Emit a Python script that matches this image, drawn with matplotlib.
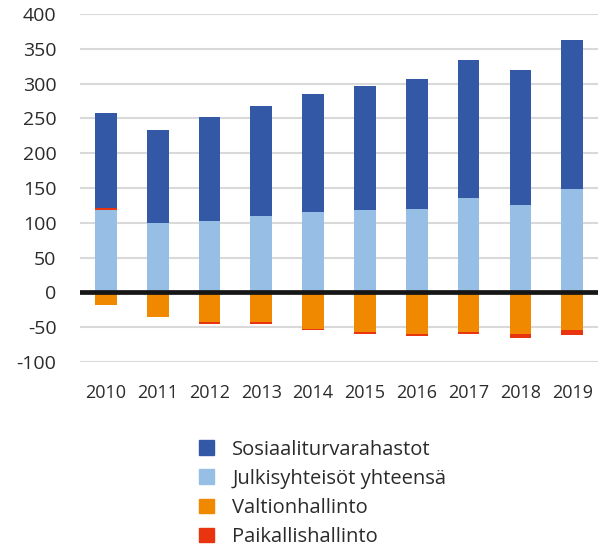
import numpy as np
import matplotlib.pyplot as plt
from matplotlib.patches import Patch

plt.rcParams['font.family'] = ['Open Sans', 'DejaVu Sans']
plt.rcParams['axes.unicode_minus'] = False

# Data
years = ['2010', '2011', '2012', '2013', '2014', '2015', '2016', '2017', '2018', '2019']
sosiaali = np.array([137, 134, 149, 159, 170, 178, 187, 199, 193, 214])
julkis = np.array([119, 100, 103, 109, 115, 118, 120, 135, 126, 149])
valtion = np.array([-18, -35, -43, -43, -52, -57, -60, -57, -60, -54])
paikallis = np.array([2, 0, -3, -3, -2.5, -3, -2.5, -3, -5.5, -8])

labels = ['Sosiaaliturvarahastot', 'Julkisyhteisöt yhteensä', 'Valtionhallinto', 'Paikallishallinto']
colors = ['#3258a6', '#97bfe6', '#f08800', '#e8340f']

fig = plt.figure(figsize=(6.06, 5.5), dpi=100)
ax = fig.add_axes([0.132, 0.342, 0.855, 0.6325])

x = np.arange(len(years))
w = 0.42

# positive stack: julkis, paikallis (if positive), sosiaali
ax.bar(x, julkis, w, color=colors[1], zorder=3)
paik_bottom = np.where(paikallis >= 0, julkis, valtion)
ax.bar(x, paikallis, w, bottom=paik_bottom, color=colors[3], zorder=3)
sos_bottom = julkis + np.clip(paikallis, 0, None)
ax.bar(x, sosiaali, w, bottom=sos_bottom, color=colors[0], zorder=3)
# negative stack
ax.bar(x, valtion, w, color=colors[2], zorder=3)

ax.axhline(0, color='#161616', lw=3.4, zorder=4)

ax.set_xlim(-0.5, len(years) - 0.5)
ax.set_ylim(-100, 400)
ax.set_yticks(np.arange(-100, 401, 50))
ax.set_xticks(x)
ax.set_xticklabels(years)
ax.grid(axis='y', color='#d9d9d9', lw=1.5, zorder=0)
for s in ax.spines.values():
    s.set_visible(False)
ax.tick_params(axis='y', length=0, pad=17, labelsize=14, labelcolor='#2b2b2b')
ax.tick_params(axis='x', length=0, pad=16, labelsize=13, labelcolor='#2b2b2b')

handles = [Patch(color=c) for c in colors]
fig.legend(handles, labels, loc='upper left', bbox_to_anchor=(0.315, 0.215),
           frameon=False, fontsize=14.5, handlelength=0.75, handleheight=0.75,
           handletextpad=0.9, labelspacing=0.45, borderaxespad=0,
           labelcolor='#2b2b2b')

fig.savefig('out.png', dpi=100)
